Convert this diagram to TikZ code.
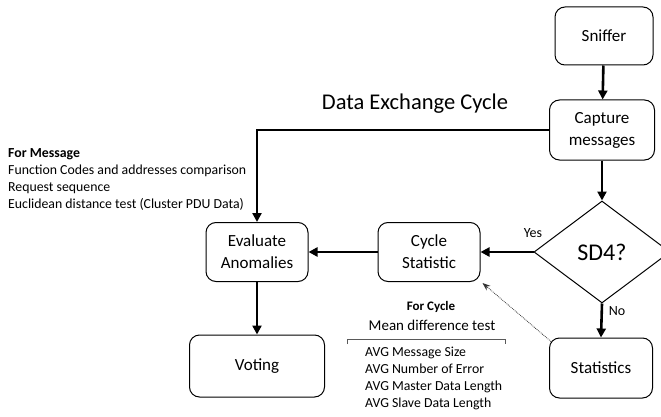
\documentclass[tikz,border=0pt]{standalone}
\usepackage{fontspec}
\setmainfont{Carlito}
\usetikzlibrary{shapes.geometric,arrows.meta}

\begin{document}
\begin{tikzpicture}[x=1pt, y=-1pt,
    box/.style={draw, line width=1pt, rounded corners=10pt, align=center,
        font=\fontsize{17}{22}\selectfont},
    flow/.style={line width=2.6pt, -{Triangle[length=9pt,width=9pt]}},
    plain/.style={line width=2.6pt}]
    \def\small{\fontsize{13.8}{17}\selectfont}

    \clip (0, 0) rectangle (661, 417);

    \node [box, minimum width=98, minimum height=58] (sniffer) at (604, 36) {Sniffer};
    \node [box, minimum width=105, minimum height=60] (capture) at (602, 130) {Capture\\messages};
    \node [draw, line width=1pt, shape=diamond, aspect=1.33, inner sep=0,
        minimum width=136, minimum height=102, font=\fontsize{24}{28}\selectfont]
        (sd4) at (602, 252) {SD4?};
    \node [box, minimum width=103, minimum height=60] (stats) at (601, 368) {Statistics};
    \node [box, minimum width=102, minimum height=59] (eval) at (257, 252) {Evaluate\\Anomalies};
    \node [box, minimum width=102, minimum height=59] (cycle) at (429, 252) {Cycle\\Statistic};
    \node [box, minimum width=135, minimum height=62] (voting) at (257, 366) {Voting};

    \node [font=\fontsize{22.5}{26}\selectfont] (title) at (415, 104) {Data Exchange Cycle};
    \node [anchor=north west, align=left, font=\small, inner sep=0] (formsg) at (8, 148)
        {\textbf{For Message}\\Function Codes and addresses comparison\\
        Request sequence\\Euclidean distance test (Cluster PDU Data)};
    \node [font=\fontsize{13}{15}\selectfont\bfseries] (forcyc) at (431, 307) {For Cycle};
    \node [font=\fontsize{15}{18}\selectfont] (mean) at (432, 325) {Mean difference test};
    \node [anchor=north west, align=left, font=\small, inner sep=0] (avg) at (365, 347)
        {AVG Message Size\\AVG Number of Error\\AVG Master Data Length\\AVG Slave Data Length};
    \node [font=\fontsize{14}{16}\selectfont] (yes) at (533, 233) {Yes};
    \node [font=\fontsize{14}{16}\selectfont] (no) at (617, 311) {No};

    \draw [line width=0.6pt, gray!70!black] (347, 344) -- (347, 339) -- (505, 339) -- (505, 344);

    \draw [flow] (sniffer) -- (capture);
    \draw [flow] (capture.west) -| (eval.north);
    \draw [flow] (capture) -- (sd4.north);
    \draw [flow] (sd4.west) -- (cycle.east);
    \draw [flow] (cycle) -- (eval);
    \draw [flow] (eval) -- (voting);
    \draw [flow] (sd4.south) -- (stats.north);
    \draw [densely dotted, line width=0.8pt, black!80, -{Stealth[length=8pt,width=6pt]}]
        ([xshift=2pt, yshift=-4pt]stats.north west) -- ([xshift=2pt, yshift=-1pt]cycle.south east);
\end{tikzpicture}
\end{document}
